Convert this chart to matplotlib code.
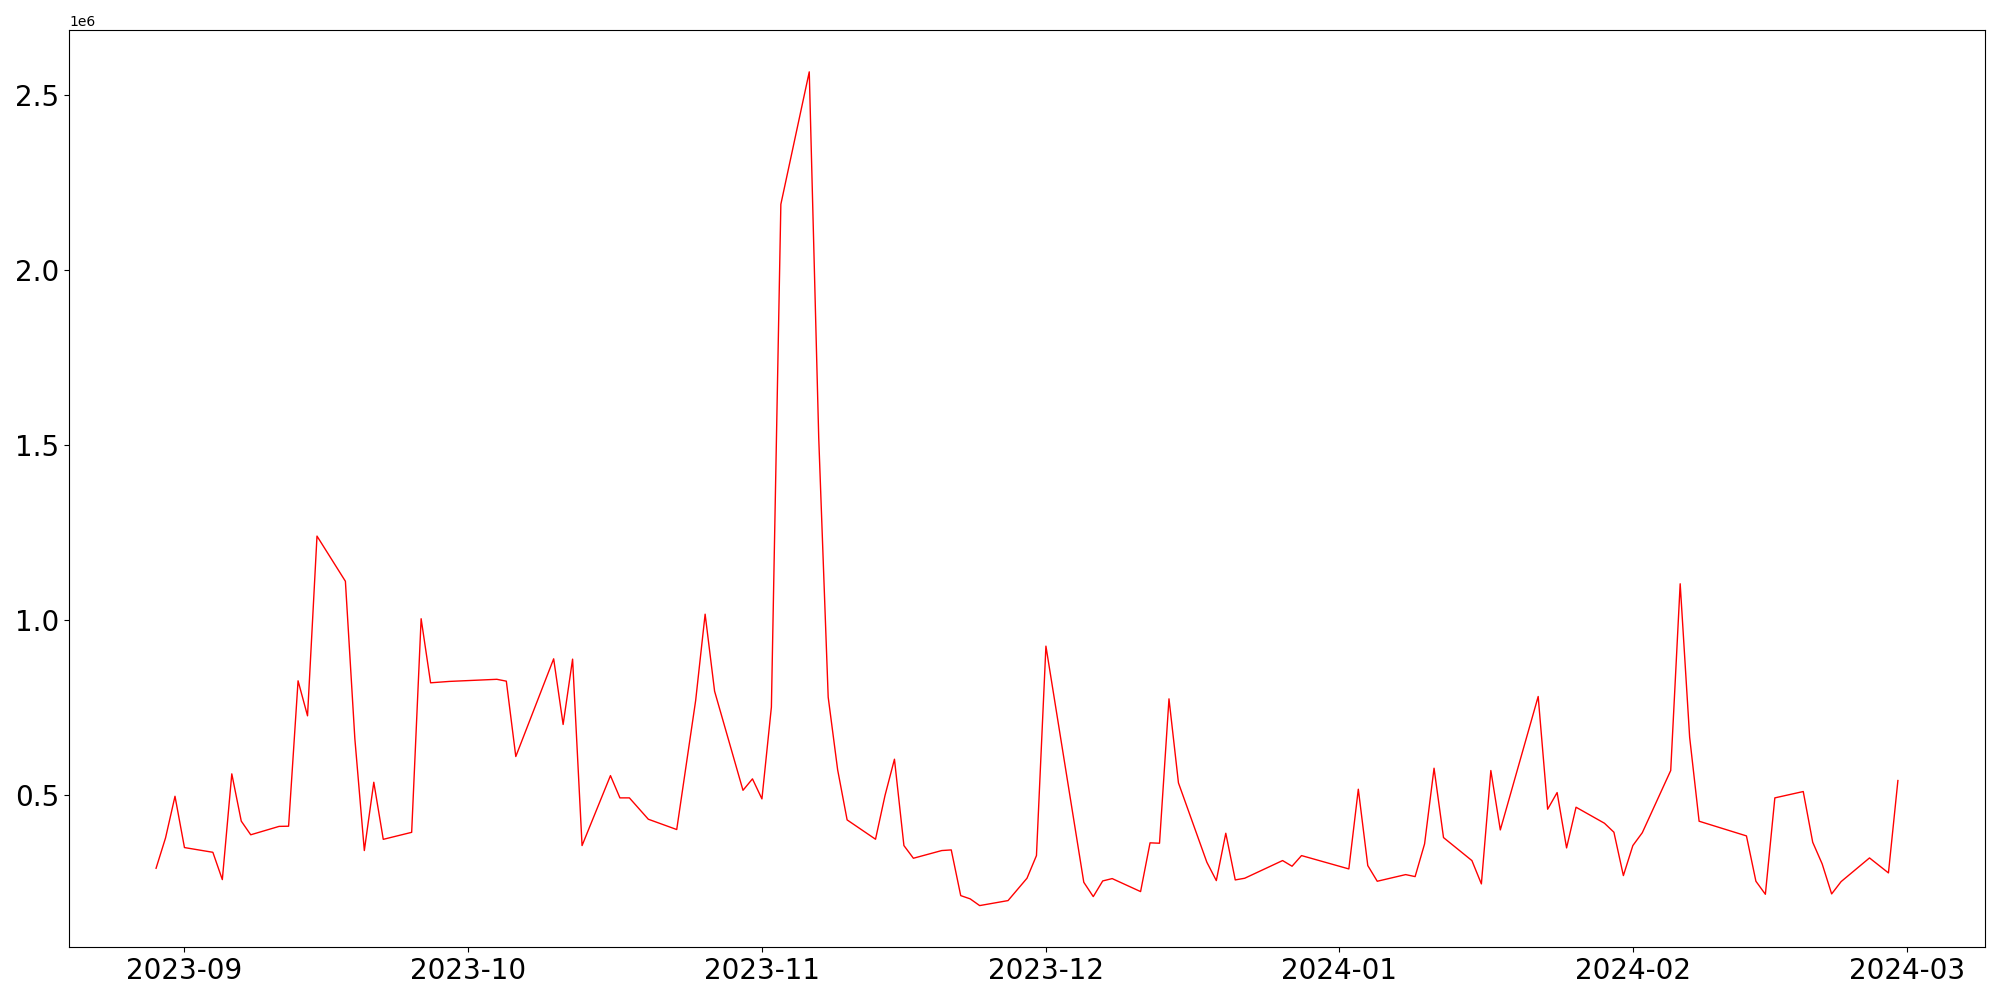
import pandas as pd
import numpy as np
import matplotlib
matplotlib.use("Agg")
import matplotlib.pyplot as plt

# Daily values (weekdays)
dates = [
    "2023-08-29", "2023-08-30", "2023-08-31", "2023-09-01", "2023-09-04",
    "2023-09-05", "2023-09-06", "2023-09-07", "2023-09-08", "2023-09-11",
    "2023-09-12", "2023-09-13", "2023-09-14", "2023-09-15", "2023-09-18",
    "2023-09-19", "2023-09-20", "2023-09-21", "2023-09-22", "2023-09-25",
    "2023-09-26", "2023-09-27", "2023-09-29", "2023-10-04", "2023-10-05",
    "2023-10-06", "2023-10-10", "2023-10-11", "2023-10-12", "2023-10-13",
    "2023-10-16", "2023-10-17", "2023-10-18", "2023-10-20", "2023-10-23",
    "2023-10-25", "2023-10-26", "2023-10-27", "2023-10-30", "2023-10-31",
    "2023-11-01", "2023-11-02", "2023-11-03", "2023-11-06", "2023-11-07",
    "2023-11-08", "2023-11-09", "2023-11-10", "2023-11-13", "2023-11-14",
    "2023-11-15", "2023-11-16", "2023-11-17", "2023-11-20", "2023-11-21",
    "2023-11-22", "2023-11-23", "2023-11-24", "2023-11-27", "2023-11-29",
    "2023-11-30", "2023-12-01", "2023-12-05", "2023-12-06", "2023-12-07",
    "2023-12-08", "2023-12-11", "2023-12-12", "2023-12-13", "2023-12-14",
    "2023-12-15", "2023-12-18", "2023-12-19", "2023-12-20", "2023-12-21",
    "2023-12-22", "2023-12-26", "2023-12-27", "2023-12-28", "2024-01-02",
    "2024-01-03", "2024-01-04", "2024-01-05", "2024-01-08", "2024-01-09",
    "2024-01-10", "2024-01-11", "2024-01-12", "2024-01-15", "2024-01-16",
    "2024-01-17", "2024-01-18", "2024-01-22", "2024-01-23", "2024-01-24",
    "2024-01-25", "2024-01-26", "2024-01-29", "2024-01-30", "2024-01-31",
    "2024-02-01", "2024-02-02", "2024-02-05", "2024-02-06", "2024-02-07",
    "2024-02-08", "2024-02-13", "2024-02-14", "2024-02-15", "2024-02-16",
    "2024-02-19", "2024-02-20", "2024-02-21", "2024-02-22", "2024-02-23",
    "2024-02-26", "2024-02-28", "2024-02-29",
]

values = [
    290400, 377000, 496000, 349500, 336000,
    258000, 560000, 425000, 386000, 410000,
    410500, 825700, 725700, 1239000, 1110000,
    660000, 341000, 536000, 373000, 393000,
    1003000, 820000, 824000, 830000, 824700,
    609500, 888500, 701000, 887600, 355200,
    555000, 491400, 491400, 430400, 401000,
    769500, 1016000, 796000, 513000, 545700,
    488500, 750500, 2186600, 2564700, 1520000,
    779000, 571400, 428500, 373300, 498000,
    601800, 355200, 319000, 341000, 342800,
    212300, 203000, 183800, 198100, 261900,
    326600, 924700, 250400, 209500, 254200,
    260900, 223800, 363000, 361900, 774200,
    534200, 307600, 255200, 390400, 257100,
    261900, 312400, 296200, 326600, 288500,
    516100, 298100, 253300, 272300, 266600,
    360000, 576100, 378000, 312300, 245700,
    569500, 399900, 780900, 459000, 506600,
    348500, 464700, 419000, 393300, 269500,
    355200, 392000, 569500, 1102800, 664700,
    424700, 382800, 253300, 216100, 491400,
    509500, 364700, 302800, 217100, 252300,
    319900, 277100, 540900,
]

s = pd.Series(values, index=pd.to_datetime(dates))

plt.figure(figsize=(20, 10), dpi=100)
plt.plot(s.index, s.values, color="red", linewidth=1)
plt.xticks(fontsize=20)
plt.yticks(fontsize=20)
plt.tight_layout()
plt.savefig("out.png", dpi=100)
